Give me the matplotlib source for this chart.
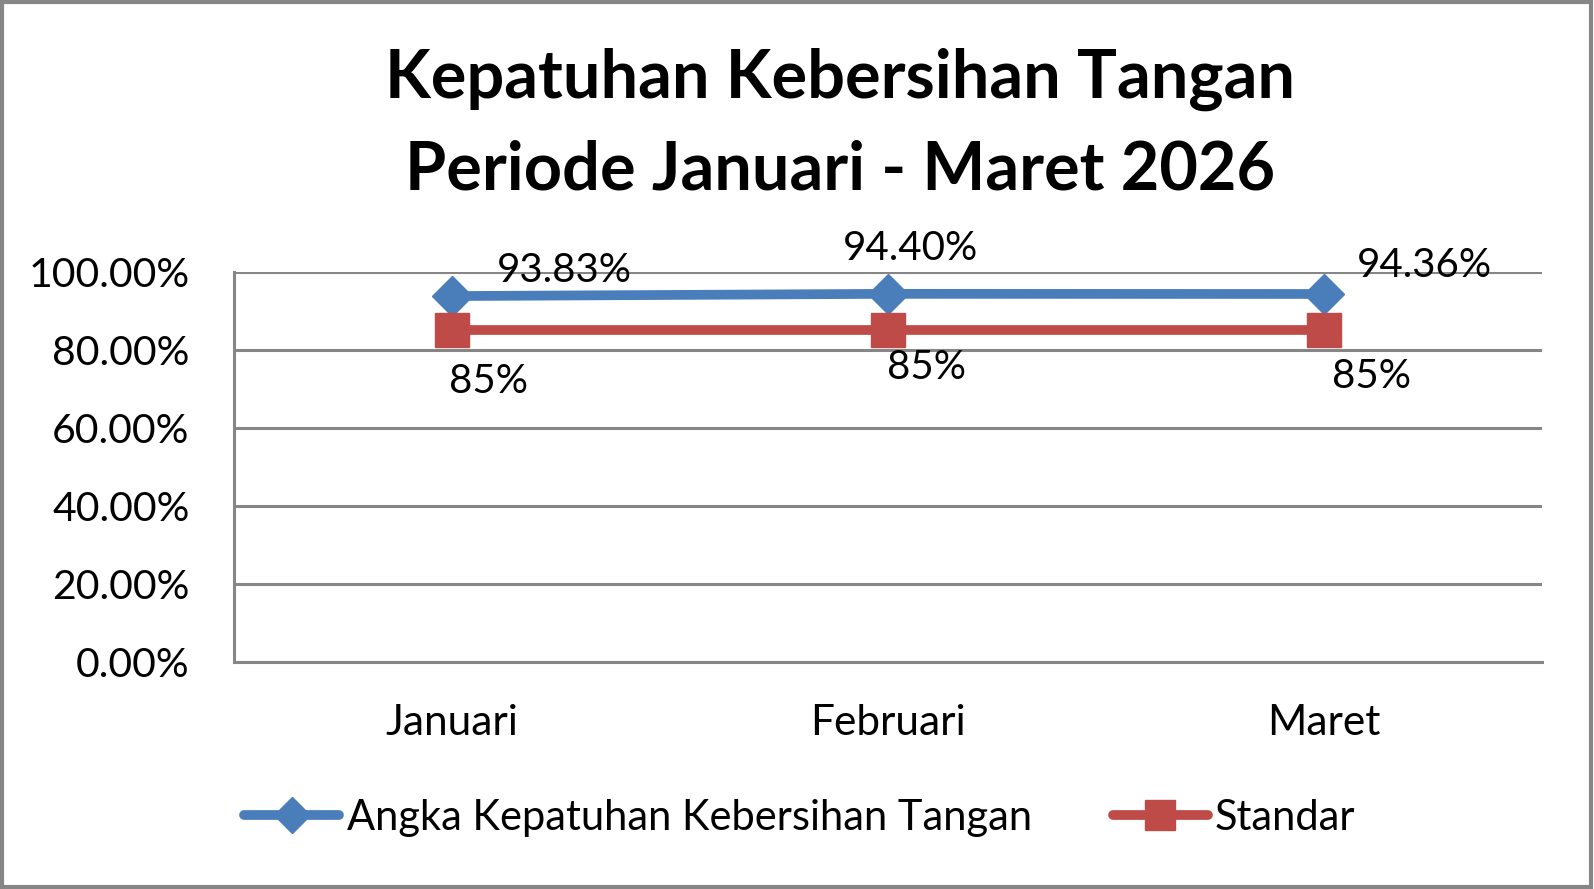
import matplotlib.pyplot as plt
from matplotlib.lines import Line2D

bulan = ['Januari', 'Februari', 'Maret']
kepatuhan = [0.9383, 0.9440, 0.9436]
standar = [0.85, 0.85, 0.85]
label_kepatuhan = ['93.83%', '94.40%', '94.36%']
label_standar = ['85%', '85%', '85%']
yticks = [0.0, 0.2, 0.4, 0.6, 0.8, 1.0]

plt.rcParams['font.family'] = ['Lato', 'DejaVu Sans']

biru = '#4A7EBB'
merah = '#BE4B48'
abu = '#868686'

W, H = 1594, 889
fig = plt.figure(figsize=(W / 100, H / 100), dpi=100)
ax = fig.add_axes([234 / W, 1 - 662 / H, (1542 - 234) / W, (662 - 272) / H])

x = list(range(len(bulan)))
ax.plot(x, kepatuhan, color=biru, lw=7, marker='D', ms=20, zorder=3, solid_capstyle='round')
ax.plot(x, standar, color=merah, lw=7, marker='s', ms=24, zorder=3, solid_capstyle='round')

ax.set_xlim(-0.5, 2.5)
ax.set_ylim(0, 1)
ax.set_yticks(yticks)
ax.set_yticklabels(['%.2f%%' % (v * 100) for v in yticks], fontsize=29.5)
ax.set_xticks(x)
ax.set_xticklabels(bulan, fontsize=30.5)
ax.tick_params(length=0)
ax.tick_params(axis='y', pad=32)
ax.tick_params(axis='x', pad=30)
ax.grid(axis='y', color=abu, lw=2.2)
ax.set_axisbelow(True)
for s in ['top', 'right']:
    ax.spines[s].set_visible(False)
for s in ['left', 'bottom']:
    ax.spines[s].set_color(abu)
    ax.spines[s].set_linewidth(2.2)

# label data
off_k = [(81, 5), (16, 19), (72, 7)]
for i, (v, t) in enumerate(zip(kepatuhan, label_kepatuhan)):
    ax.annotate(t, (i, v), xytext=off_k[i], textcoords='offset points',
                ha='center', va='bottom', fontsize=29)
off_s = [(26, -23.5), (28, -13.5), (34.5, -20)]
for i, (v, t) in enumerate(zip(standar, label_standar)):
    ax.annotate(t, (i, v), xytext=off_s[i], textcoords='offset points',
                ha='center', va='top', fontsize=29)

fig.text(840 / W, 1 - 125 / H, 'Kepatuhan Kebersihan Tangan\nPeriode Januari - Maret 2026',
         ha='center', va='center', fontsize=48, fontweight='bold', linespacing=1.57)

handles = [
    Line2D([], [], color=biru, lw=7, marker='D', ms=18, solid_capstyle='round'),
    Line2D([], [], color=merah, lw=7, marker='s', ms=22, solid_capstyle='round'),
]
fig.legend(handles, ['Angka Kepatuhan Kebersihan Tangan', 'Standar'],
           loc='center', bbox_to_anchor=(800 / W, 1 - 818 / H), ncol=2, frameon=False,
           fontsize=30, handlelength=2.28, handletextpad=0.17, columnspacing=1.95)

fig.patches.append(plt.Rectangle((0.001, 0.002), 0.997, 0.996, transform=fig.transFigure,
                                 fill=False, edgecolor=abu, lw=3))

fig.savefig('out.png', dpi=100)
